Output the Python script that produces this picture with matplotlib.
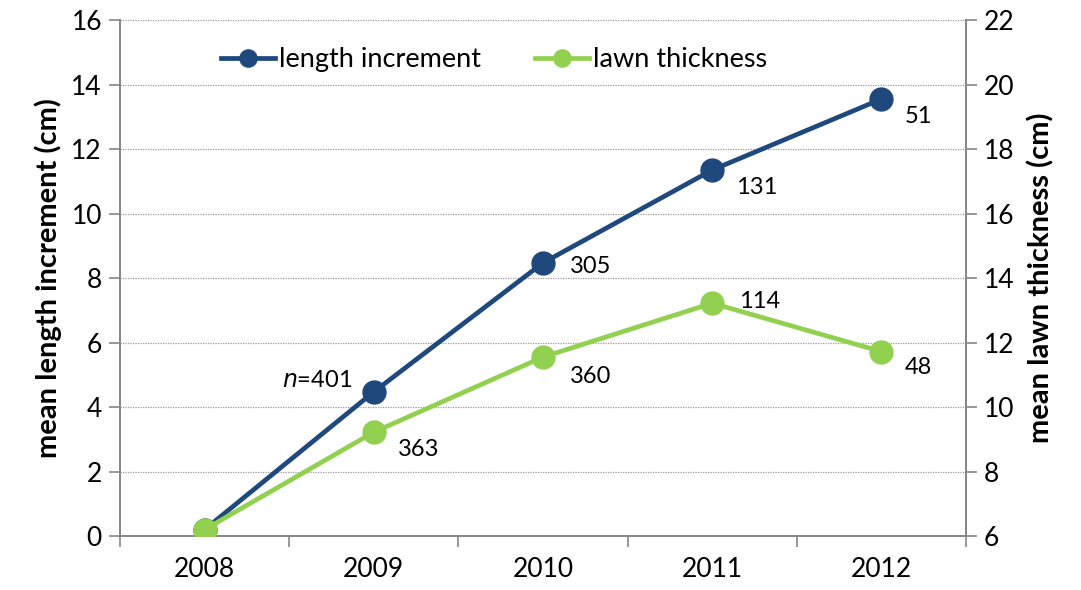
import matplotlib.pyplot as plt
from matplotlib.ticker import FixedLocator, MultipleLocator

plt.rcParams['font.family'] = ['Lato', 'DejaVu Sans']

years = ['2008', '2009', '2010', '2011', '2012']
length_increment = [0.2, 4.47, 8.47, 11.35, 13.55]
lawn_thickness = [6.2, 9.22, 11.55, 13.22, 11.72]
n_length = ['', '401', '305', '131', '51']
n_lawn = ['', '363', '360', '114', '48']

blue = '#1F497D'
green = '#92D050'
axis_grey = '#868686'

fig = plt.figure(figsize=(10.81, 5.90), dpi=100)
ax = fig.add_axes([0.111, 0.0915, 0.7826, 0.8745])
ax2 = ax.twinx()

x = list(range(len(years)))
l1, = ax.plot(x, length_increment, color=blue, lw=3.4, marker='o', ms=16.5,
              label='length increment', zorder=3)
l2, = ax2.plot(x, lawn_thickness, color=green, lw=3.4, marker='o', ms=16.5,
               label='lawn thickness', zorder=3)

ax.set_xlim(-0.5, len(years) - 0.5)
ax.set_ylim(0, 16)
ax2.set_ylim(6, 22)
ax.yaxis.set_major_locator(MultipleLocator(2))
ax2.yaxis.set_major_locator(MultipleLocator(2))

ax.set_xticks(x)
ax.set_xticklabels(years)
ax.xaxis.set_minor_locator(FixedLocator([i - 0.5 for i in range(len(years) + 1)]))
ax.tick_params(axis='x', which='major', length=0, pad=15, labelsize=19)
ax.tick_params(axis='x', which='minor', length=8, width=1.2, color=axis_grey, direction='out')
ax.tick_params(axis='y', length=8, width=1.2, color=axis_grey, labelsize=19, pad=5)
ax2.tick_params(axis='y', length=8, width=1.2, color=axis_grey, labelsize=19, pad=5)

ax.grid(axis='y', linestyle=(0, (1, 1)), color='#9a9a9a', lw=0.9)
ax.set_axisbelow(True)

for a in (ax, ax2):
    a.spines['top'].set_visible(False)
    for s in ('left', 'right', 'bottom'):
        a.spines[s].set_color(axis_grey)
        a.spines[s].set_linewidth(1.2)

ax.set_ylabel('mean length increment (cm)', fontsize=21, fontweight='bold', labelpad=7)
ax2.set_ylabel('mean lawn thickness (cm)', fontsize=21, fontweight='bold', labelpad=9)

# sample sizes beside each point
lab_kw = dict(fontsize=17, color='black')
ax.text(x[1] - 0.13, length_increment[1] + 0.35, r'$\mathit{n}$=' + n_length[1],
        ha='right', va='center', **lab_kw)
ax.text(x[2] + 0.16, length_increment[2] - 0.1, n_length[2], ha='left', va='center', **lab_kw)
ax.text(x[3] + 0.14, length_increment[3] - 0.55, n_length[3], ha='left', va='center', **lab_kw)
ax.text(x[4] + 0.14, length_increment[4] - 0.55, n_length[4], ha='left', va='center', **lab_kw)
ax2.text(x[1] + 0.14, lawn_thickness[1] - 0.55, n_lawn[1], ha='left', va='center', **lab_kw)
ax2.text(x[2] + 0.16, lawn_thickness[2] - 0.6, n_lawn[2], ha='left', va='center', **lab_kw)
ax2.text(x[3] + 0.16, lawn_thickness[3] + 0.05, n_lawn[3], ha='left', va='center', **lab_kw)
ax2.text(x[4] + 0.14, lawn_thickness[4] - 0.5, n_lawn[4], ha='left', va='center', **lab_kw)

ax2.legend(handles=[l1, l2], loc='upper left', bbox_to_anchor=(0.09, 0.995), ncol=2,
           frameon=False, fontsize=19.5, handlelength=2.0, handletextpad=0.15,
           columnspacing=2.0, markerscale=0.75)

fig.savefig('out.png', dpi=100)
